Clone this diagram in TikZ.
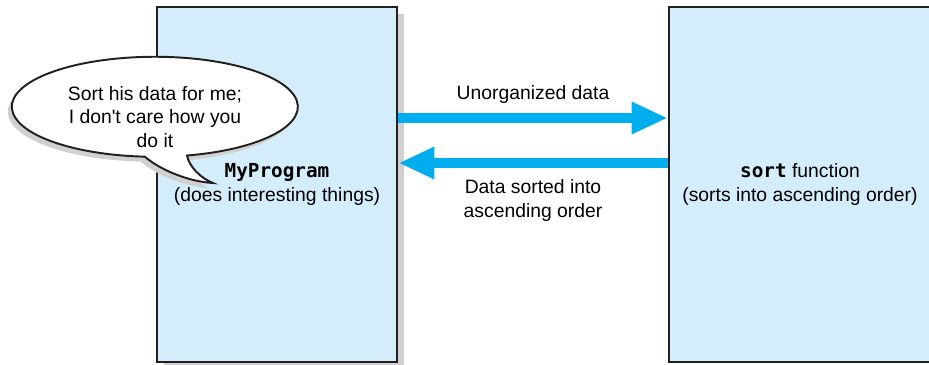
\documentclass[tikz,border=0pt]{standalone}
\usepackage{fontspec}
\setmainfont{Liberation Sans}
\setmonofont{DejaVu Sans Mono}
\usetikzlibrary{arrows.meta, positioning, shadows}
\definecolor{boxblue}{RGB}{211,237,250}
\definecolor{flowcyan}{RGB}{0,174,239}
\definecolor{edgegray}{RGB}{35,31,32}
\definecolor{shadowgray}{RGB}{208,208,208}
\newcommand{\bubbleoutline}{(3.74,4.19) arc[start angle=283, end angle=626, x radius=2.86, y radius=1.0]
  .. controls (3.2,3.9) and (3.8,3.66) .. (4.26,3.64)
  .. controls (4.0,3.74) and (3.78,3.98) .. (3.74,4.19) -- cycle}
\begin{document}
\begin{tikzpicture}[
    every node/.style={font=\fontsize{11}{13.6}\selectfont},
    blk/.style={draw=edgegray, fill=boxblue, line width=1.5pt, align=center,
                minimum height=7.1cm},
    lbl/.style={align=center, inner sep=0.13cm},
    flow/.style={draw=flowcyan, line width=0.2cm, -{Triangle[length=7.2mm, width=6mm]}}
]
\useasboundingbox (0,0) rectangle (18.58,7.3);
\clip (0,0) rectangle (18.58,7.3);

% -------- The two program units --------
\node[blk, minimum width=4.8cm,
      drop shadow={shadow xshift=0.14cm, shadow yshift=-0.14cm, fill=shadowgray, opacity=1}]
      (prog) at (5.54,3.61) {\texttt{\textbf{MyProgram}}\\(does interesting things)};
\node[blk, minimum width=5.24cm] (sorter) at (16.0,3.61)
      {\texttt{\textbf{sort}} function\\(sorts into ascending order)};

% -------- Data going out and coming back --------
\draw[flow] ([yshift=1.33cm]prog.east) -- ([yshift=1.33cm]sorter.west)
      node[lbl, midway, above=0.06cm] (unsorted) {Unorganized data};
\draw[flow] ([yshift=0.43cm]sorter.west) -- ([yshift=0.43cm]prog.east)
      node[lbl, midway, below=0.1cm] (sorted) {Data sorted into\\ascending order};

% -------- Speech bubble --------
\fill[shadowgray, xshift=-0.08cm, yshift=-0.1cm] \bubbleoutline;
\filldraw[fill=white, draw=edgegray, line width=1.1pt] \bubbleoutline;
\node[lbl] (bubble) at (3.1,4.96) {Sort his data for me;\\I don\textquotesingle t care how you\\do it};

\end{tikzpicture}
\end{document}
